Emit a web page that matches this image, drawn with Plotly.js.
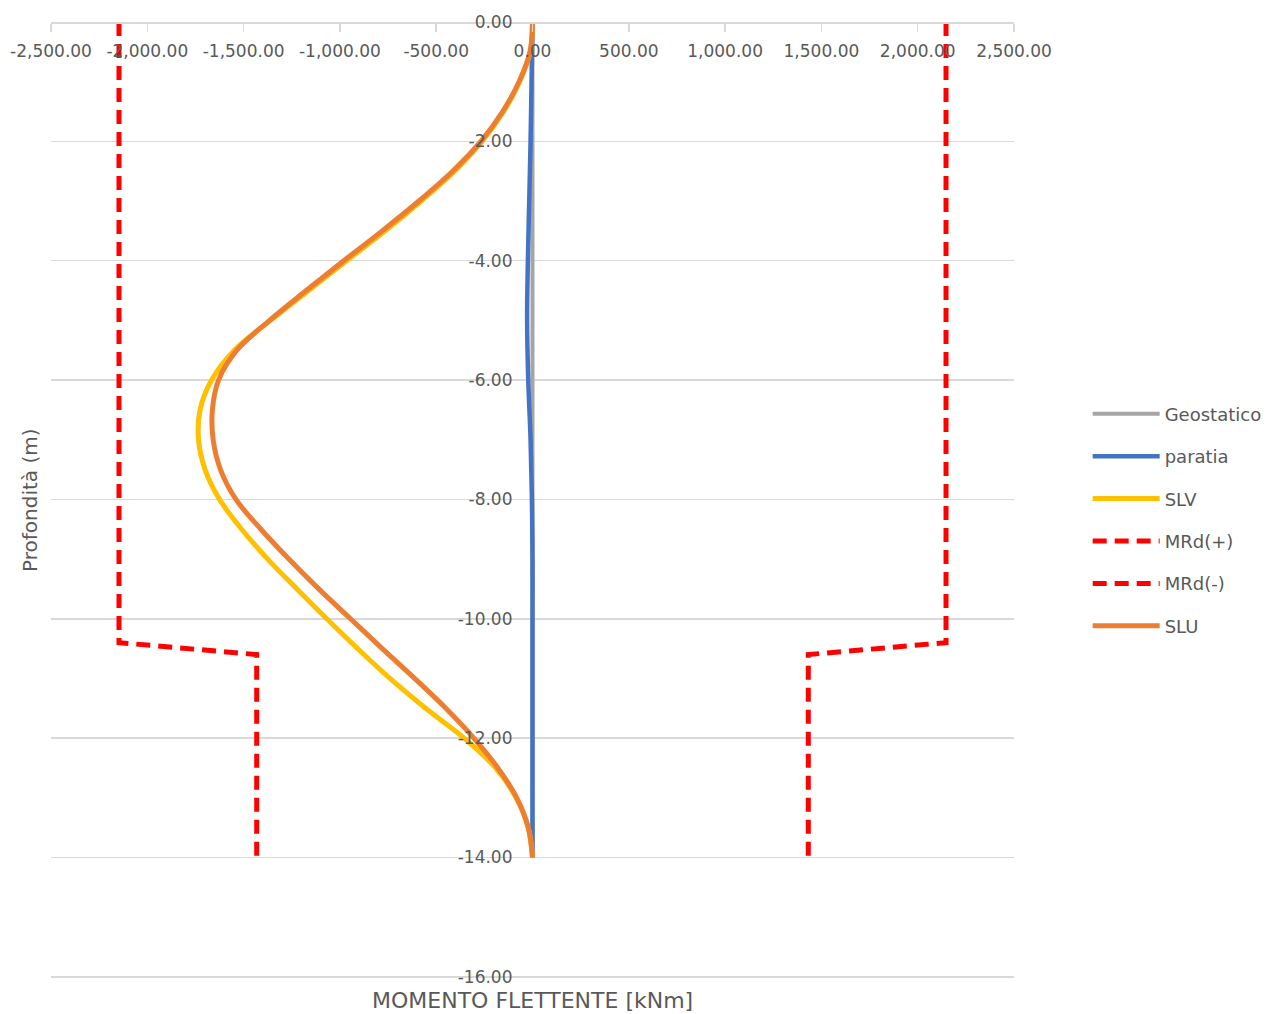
<!DOCTYPE html>
<html>
<head>
<meta charset="utf-8">
<script src="https://cdn.plot.ly/plotly-3.0.1.min.js"></script>
<style>html,body{margin:0;padding:0;background:#fff;}#chart{width:1267px;height:1014px;}</style>
</head>
<body>
<div id="chart"></div>
<script>
// Depth (m) for the envelope curves
const depth = [0,-0.5,-1,-1.5,-2,-2.5,-3,-3.5,-4,-4.5,-5,-5.5,-6,-6.5,-7,-7.5,-8,-8.5,-9,-9.5,-10,-10.5,-11,-11.5,-12,-12.5,-13,-13.5,-14];
// Bending moment SLU (kNm)
const sluM = [0,-13,-70,-155,-268,-415,-590,-780,-980,-1175,-1365,-1535,-1630,-1662,-1658,-1620,-1540,-1410,-1265,-1110,-945,-780,-612,-450,-305,-180,-82,-22,0];
// Bending moment SLV (kNm)
const slvM = [0,-12,-67,-150,-262,-405,-578,-765,-965,-1162,-1360,-1548,-1666,-1726,-1734,-1700,-1625,-1510,-1375,-1223,-1068,-908,-740,-555,-355,-192,-85,-22,0];
// Paratia and geostatic moments
const depthP = [0,-1,-2,-3,-4,-5,-6,-7,-8,-9,-10,-11,-12,-13,-14];
const paratiaM = [0,-5,-10,-17,-24,-28,-22,-10,-3,0,0,0,0,0,0];
const geoM = [0,0,0,0,0,0,0,0,0,0,0,0,0,0,0];
// Resisting moments
const mrdDepth = [0,-10.4,-10.6,-14];
const mrdPos = [2147,2147,1432,1432];
const mrdNeg = [-2147,-2147,-1432,-1432];

const names = ['Geostatico','paratia','SLV','MRd(+)','MRd(-)','SLU'];
const xTicks = [-2500,-2000,-1500,-1000,-500,0,500,1000,1500,2000,2500];
const xTickText = ['-2,500.00','-2,000.00','-1,500.00','-1,000.00','-500.00','0.00','500.00','1,000.00','1,500.00','2,000.00','2,500.00'];
const yTicks = [0,-2,-4,-6,-8,-10,-12,-14,-16];
const yTickText = ['0.00','-2.00','-4.00','-6.00','-8.00','-10.00','-12.00','-14.00','-16.00'];

const FONT = 'DejaVu Sans, sans-serif';
const TXT = '#595959';

const traces = [
  {x: geoM, y: depthP, name: names[0], legendgroup:'g0', mode:'lines', line:{color:'#a5a5a5', width:4}},
  {x: paratiaM, y: depthP, name: names[1], legendgroup:'g1', mode:'lines', line:{color:'#4472c4', width:4.5, shape:'spline'}},
  {x: slvM, y: depth, name: names[2], legendgroup:'g2', mode:'lines', line:{color:'#ffc000', width:5, shape:'spline', smoothing:1}},
  {x: mrdPos, y: mrdDepth, name: names[3], legendgroup:'g3', mode:'lines', line:{color:'#ff0000', width:5, dash:'14px,8px'}},
  {x: mrdNeg, y: mrdDepth, name: names[4], legendgroup:'g4', mode:'lines', line:{color:'#ff0000', width:5, dash:'14px,8px'}},
  {x: sluM, y: depth, name: names[5], legendgroup:'g5', mode:'lines', line:{color:'#ed7d31', width:5, shape:'spline', smoothing:1}}
];

const layout = {
  width: 1267, height: 1014,
  margin: {l:51, r:253, t:22, b:36, pad:0, autoexpand:false},
  paper_bgcolor:'#ffffff', plot_bgcolor:'#ffffff',
  font: {family: FONT, color: TXT, size: 17},
  showlegend: true,
  legend: {x: 1.0765, xanchor:'left', y: 0.479, yanchor:'middle', tracegroupgap: 16,
           itemwidth: 67, font:{family: FONT, size:18, color: TXT}, bgcolor:'rgba(0,0,0,0)'},
  xaxis: {
    range: [-2500, 2500], anchor: 'free', position: 1, side: 'bottom',
    tickmode: 'array', tickvals: xTicks, ticktext: xTickText,
    showgrid: false, zeroline: false, showline: true, linecolor:'#d9d9d9', linewidth: 1.5,
    ticks: 'outside', ticklen: 8, tickcolor:'#d9d9d9', tickwidth: 1.5, ticklabelstandoff: 5,
    tickfont: {family: FONT, size: 17, color: TXT}, fixedrange: true
  },
  yaxis: {
    range: [-16.02, 0], anchor: 'free', position: 0.5, side: 'left',
    tickmode: 'array', tickvals: yTicks, ticktext: yTickText,
    showgrid: true, gridcolor:'#d9d9d9', gridwidth: 1.5,
    zeroline: false, showline: false, ticks: '', ticklabelstandoff: 20,
    tickfont: {family: FONT, size: 17, color: TXT}, fixedrange: true
  },
  annotations: [
    {text:'MOMENTO FLETTENTE [kNm]', xref:'paper', yref:'paper', x:0.5, y:-0.024, xanchor:'center', yanchor:'middle',
     showarrow:false, font:{family: FONT, size:22, color: TXT}},
    {text:'Profondità (m)', xref:'paper', yref:'paper', x:-0.0218, y:0.499, xanchor:'center', yanchor:'middle',
     textangle:-90, showarrow:false, font:{family: FONT, size:20, color: TXT}}
  ]
};

Plotly.newPlot('chart', traces, layout, {displayModeBar:false, staticPlot:true});
</script>
</body>
</html>
